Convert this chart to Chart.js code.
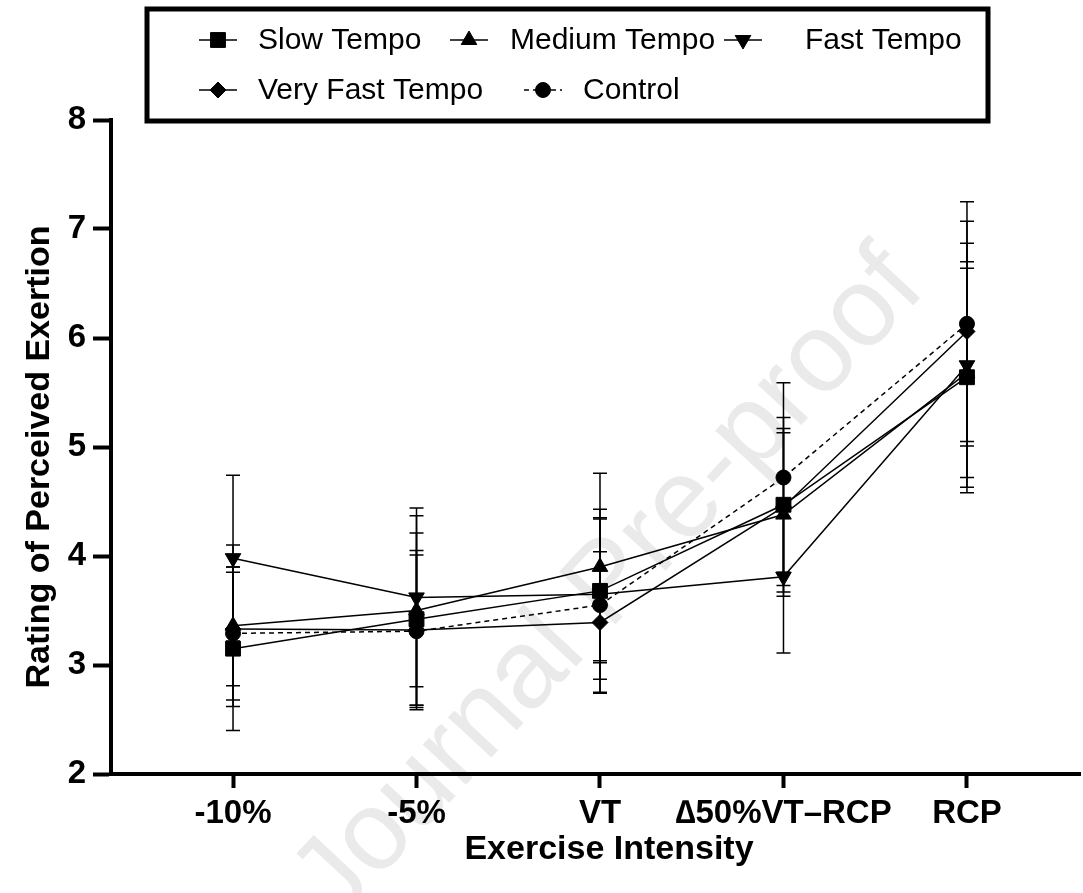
<!DOCTYPE html>
<html>
<head>
<meta charset="utf-8">
<script src="https://cdn.jsdelivr.net/npm/chart.js@4"></script>
<style>
  html, body { margin: 0; padding: 0; background: #fff; }
  #wrap { width: 1083px; height: 893px; position: relative; }
</style>
</head>
<body>
<div id="wrap"><canvas id="c" width="1083" height="893"></canvas></div>
<script>
// ---- data ----
const categories = ['-10%', '-5%', 'VT', '\u220650%VT\u2013RCP', 'RCP'];
const yTicks = [2, 3, 4, 5, 6, 7, 8];
const xTitle = 'Exercise Intensity';
const yTitle = 'Rating of Perceived Exertion';

const slowTempo      = [3.15, 3.42, 3.68, 4.47, 5.64];
const slowTempoSD    = [0.75, 0.79, 0.66, 0.80, 1.06];
const mediumTempo    = [3.36, 3.50, 3.90, 4.38, 5.68];
const mediumTempoSD  = [0.74, 0.87, 0.86, 0.75, 0.96];
const fastTempo      = [3.98, 3.62, 3.65, 3.81, 5.75];
const fastTempoSD    = [0.76, 0.82, 0.78, 0.70, 1.12];
const veryFastTempo  = [3.33, 3.32, 3.39, 4.45, 6.06];
const veryFastTempoSD= [0.52, 0.73, 0.65, 0.72, 1.01];
const control        = [3.29, 3.31, 3.55, 4.72, 6.13];
const controlSD      = [0.61, 0.70, 0.80, 0.87, 1.12];

const seriesNames = ['Slow Tempo', 'Medium Tempo', 'Fast Tempo', 'Very Fast Tempo', 'Control'];

// ---- build datasets ----
function pts(arr) { return arr.map((v, i) => ({ x: i, y: v })); }
const styles = [
  { pointStyle: 'rect', radius: 10.5, rotation: 0, dash: [] },
  { pointStyle: 'triangle', radius: 9, rotation: 0, dash: [] },
  { pointStyle: 'triangle', radius: 9, rotation: 180, dash: [] },
  { pointStyle: 'rectRot', radius: 8, rotation: 0, dash: [] },
  { pointStyle: 'circle', radius: 7.5, rotation: 0, dash: [5, 4] }
];
const values = [slowTempo, mediumTempo, fastTempo, veryFastTempo, control];
const errors = [slowTempoSD, mediumTempoSD, fastTempoSD, veryFastTempoSD, controlSD];

const datasets = values.map((v, k) => ({
  label: seriesNames[k],
  data: pts(v),
  errors: errors[k],
  borderColor: '#000',
  backgroundColor: '#000',
  borderWidth: 1.5,
  borderDash: styles[k].dash,
  pointStyle: styles[k].pointStyle,
  pointRadius: styles[k].radius,
  pointRotation: styles[k].rotation,
  pointBorderWidth: 1,
  pointBackgroundColor: '#000',
  pointBorderColor: '#000',
  tension: 0,
  fill: false
}));

const FONT = '"Liberation Sans", Arial, sans-serif';

// ---- plugins ----
const watermark = {
  id: 'watermark',
  beforeDraw(chart) {
    const ctx = chart.ctx;
    ctx.save();
    ctx.fillStyle = '#fff';
    ctx.fillRect(0, 0, chart.width, chart.height);
    ctx.translate(610, 585);
    ctx.rotate(-47 * Math.PI / 180);
    ctx.font = '112px ' + FONT;
    ctx.fillStyle = '#eaeaea';
    ctx.textAlign = 'center';
    ctx.textBaseline = 'middle';
    ctx.fillText('Journal Pre-proof', 0, 0);
    ctx.restore();
  }
};

const axisTitles = {
  id: 'axisTitles',
  afterDraw(chart) {
    const ctx = chart.ctx;
    ctx.save();
    ctx.fillStyle = '#000';
    ctx.font = 'bold 34px ' + FONT;
    ctx.textAlign = 'center';
    ctx.textBaseline = 'middle';
    ctx.fillText(xTitle, 609, 850);
    ctx.translate(40, 457);
    ctx.rotate(-Math.PI / 2);
    ctx.fillText(yTitle, 0, 0);
    ctx.restore();
  }
};

const errorBars = {
  id: 'errorBars',
  beforeDatasetsDraw(chart) {
    const ctx = chart.ctx;
    const xs = chart.scales.x, ys = chart.scales.y;
    ctx.save();
    ctx.strokeStyle = '#000';
    ctx.lineWidth = 1.5;
    ctx.setLineDash([]);
    chart.data.datasets.forEach(ds => {
      ds.data.forEach((p, i) => {
        const e = ds.errors[i];
        const x = xs.getPixelForValue(p.x);
        const yTop = ys.getPixelForValue(p.y + e);
        const yBot = ys.getPixelForValue(p.y - e);
        ctx.beginPath();
        ctx.moveTo(x, yTop); ctx.lineTo(x, yBot);
        ctx.moveTo(x - 7, yTop); ctx.lineTo(x + 7, yTop);
        ctx.moveTo(x - 7, yBot); ctx.lineTo(x + 7, yBot);
        ctx.stroke();
      });
    });
    ctx.restore();
  }
};

const boxLegend = {
  id: 'boxLegend',
  afterDraw(chart) {
    const ctx = chart.ctx;
    ctx.save();
    ctx.lineWidth = 5;
    ctx.strokeStyle = '#000';
    ctx.setLineDash([]);
    ctx.strokeRect(147, 9, 988 - 147, 121 - 9);
    const items = [
      { k: 0, mx: 218, tx: 258, y: 40 },
      { k: 1, mx: 469, tx: 510, y: 40 },
      { k: 2, mx: 743, tx: 805, y: 40 },
      { k: 3, mx: 218, tx: 258, y: 90 },
      { k: 4, mx: 543, tx: 583, y: 90 }
    ];
    items.forEach(it => {
      const ds = chart.data.datasets[it.k];
      ctx.save();
      ctx.strokeStyle = '#000';
      ctx.lineWidth = 1.5;
      ctx.setLineDash(ds.borderDash || []);
      ctx.beginPath();
      ctx.moveTo(it.mx - 19, it.y); ctx.lineTo(it.mx + 19, it.y);
      ctx.stroke();
      ctx.restore();
      ctx.save();
      ctx.fillStyle = '#000'; ctx.strokeStyle = '#000'; ctx.lineWidth = 1;
      Chart.helpers.drawPoint(ctx, {
        pointStyle: ds.pointStyle,
        rotation: ds.pointRotation,
        radius: ds.pointRadius,
        borderWidth: 1
      }, it.mx, it.y);
      ctx.restore();
      ctx.save();
      ctx.fillStyle = '#000';
      ctx.textAlign = 'left';
      ctx.textBaseline = 'middle';
      ctx.font = '30px ' + FONT;
      ctx.fillText(ds.label, it.tx, it.y + 1);
      ctx.restore();
    });
    ctx.restore();
  }
};

// ---- chart ----
new Chart(document.getElementById('c'), {
  type: 'line',
  data: { datasets },
  options: {
    responsive: false,
    animation: false,
    devicePixelRatio: 1,
    layout: { autoPadding: false, padding: { top: 120, right: 3, left: 0, bottom: 0 } },
    plugins: {
      legend: { display: false },
      tooltip: { enabled: false }
    },
    scales: {
      x: {
        type: 'linear',
        min: -0.665,
        max: 4.616,
        afterBuildTicks(s) { s.ticks = categories.map((_, i) => ({ value: i })); },
        afterFit(s) { s.height = 893 - 774; },
        grid: { display: true, drawOnChartArea: false, drawTicks: true, tickLength: 14, tickWidth: 4, tickColor: '#000' },
        border: { display: true, color: '#000', width: 4 },
        ticks: {
          autoSkip: false,
          maxRotation: 0,
          padding: 6,
          color: '#000',
          font: { family: FONT, size: 33, weight: 'bold' },
          callback: (v) => categories[v]
        },
        title: { display: false }
      },
      y: {
        type: 'linear',
        min: 2,
        max: 8,
        afterBuildTicks(s) { s.ticks = yTicks.map(v => ({ value: v })); },
        afterFit(s) { s.width = 111; },
        grid: { display: true, drawOnChartArea: false, drawTicks: true, tickLength: 18, tickWidth: 4, tickColor: '#000' },
        border: { display: true, color: '#000', width: 4 },
        ticks: {
          padding: 7,
          color: '#000',
          font: { family: FONT, size: 33, weight: 'bold' }
        },
        title: { display: false }
      }
    }
  },
  plugins: [watermark, errorBars, boxLegend, axisTitles]
});
</script>
</body>
</html>
